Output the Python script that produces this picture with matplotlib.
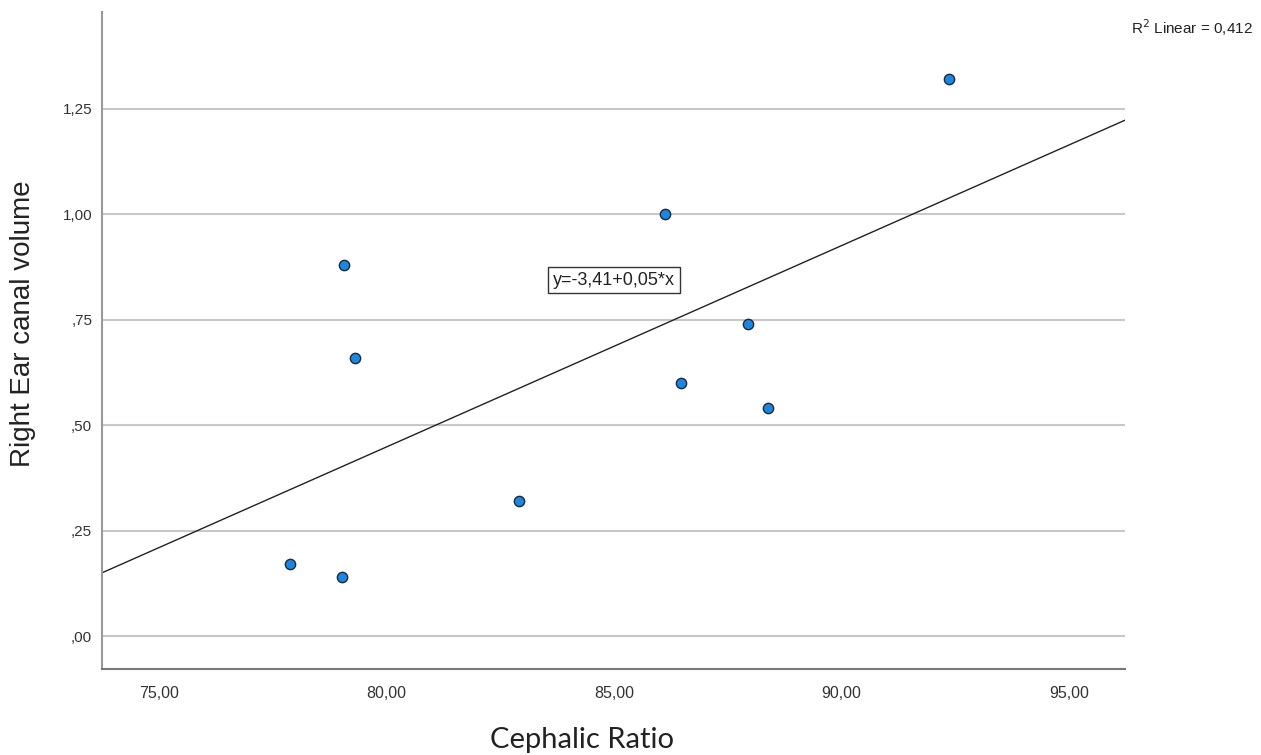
import numpy as np
import matplotlib
matplotlib.use("Agg")
import matplotlib.pyplot as plt
from matplotlib.ticker import FuncFormatter

# Data
cephalic_ratio = [92.36, 86.12, 79.07, 79.31, 87.95, 86.47, 88.38, 82.91, 77.88, 79.02]
right_ear_volume = [1.32, 1.00, 0.88, 0.66, 0.74, 0.60, 0.54, 0.32, 0.17, 0.14]
x_ticks = [75, 80, 85, 90, 95]
y_ticks = [0.0, 0.25, 0.5, 0.75, 1.0, 1.25]
equation_label = "y=-3,41+0,05*x"
r2_label = "R$^2$ Linear = 0,412"

fig = plt.figure(figsize=(12.61, 7.55), dpi=100)
ax = fig.add_axes([0.0809, 0.1139, 0.8113, 0.8702])

x = np.array(cephalic_ratio)
y = np.array(right_ear_volume)

ax.set_xlim(73.75, 96.23)
ax.set_ylim(-0.078, 1.48)

for t in y_ticks:
    ax.axhline(t, color="#c8c8c8", lw=1.5, zorder=1)

slope, intercept = np.polyfit(x, y, 1)
xl = np.array(ax.get_xlim())
ax.plot(xl, intercept + slope * xl, color="#222222", lw=1.0, zorder=2)

ax.scatter(x, y, s=55, color="#1c86e0", edgecolor="#1a2a3a", linewidth=1.0, zorder=3)

def comma_fmt(v, pos):
    s = f"{v:.2f}".replace(".", ",")
    if s.startswith("0,"):
        s = s[1:]
    return s

ax.set_xticks(x_ticks)
ax.set_yticks(y_ticks)
ax.xaxis.set_major_formatter(FuncFormatter(comma_fmt))
ax.yaxis.set_major_formatter(FuncFormatter(comma_fmt))
ax.tick_params(axis="x", length=0, labelsize=11.5, colors="#333333", pad=12)
ax.tick_params(axis="y", length=0, labelsize=11, colors="#333333", pad=7)
for lab in ax.get_xticklabels() + ax.get_yticklabels():
    lab.set_family("Liberation Sans")

for side in ["top", "right"]:
    ax.spines[side].set_visible(False)
ax.spines["left"].set_color("#999999")
ax.spines["bottom"].set_color("#777777")
ax.spines["left"].set_linewidth(1.5)
ax.spines["bottom"].set_linewidth(1.5)

ylab = ax.set_ylabel("Right Ear canal volume", fontsize=20, family="Liberation Sans",
                     color="#222222")
ylab.set_va("center")
ax.yaxis.set_label_coords(-0.077, 0.525)

xlab = ax.set_xlabel("Cephalic Ratio", fontsize=21, family="Lato", color="#222222")
xlab.set_va("baseline")
ax.xaxis.set_label_coords(0.469, -0.1207)

ax.text(85.0, 0.844, equation_label, fontsize=13, family="Liberation Sans",
        ha="center", va="center", color="#222222", zorder=4,
        bbox=dict(boxstyle="square,pad=0.25", fc="white", ec="#333333", lw=1.0))

fig.text(0.9936, 0.963, r2_label, fontsize=11, family="Liberation Sans",
         ha="right", va="center", color="#222222")

fig.savefig("out.png", dpi=100)
